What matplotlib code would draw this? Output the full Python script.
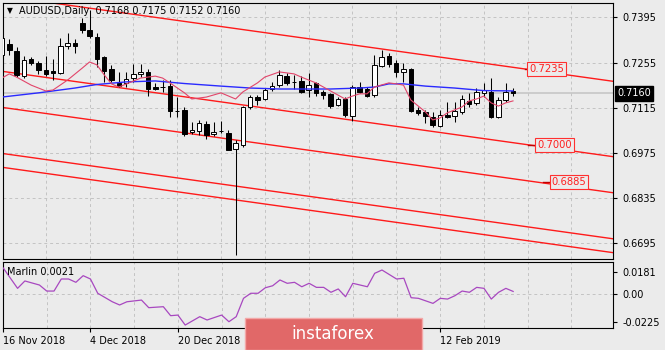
import numpy as np
import matplotlib
matplotlib.use("Agg")
import matplotlib.pyplot as plt
import matplotlib.transforms as mtransforms
from matplotlib.patches import Rectangle

# AUDUSD daily bars starting 16 Nov 2018 (index = bar number)
opens = [0.7278, 0.7313, 0.7291, 0.7213, 0.7266, 0.7254, 0.7232, 0.7229, 0.7223, 0.7307,
         0.7316, 0.7378, 0.7356, 0.7334, 0.7272, 0.7235, 0.7192, 0.7192, 0.7207, 0.7220,
         0.7226, 0.7179, 0.7180, 0.7182, 0.7106, 0.7108, 0.7040, 0.7043, 0.7064, 0.7033,
         0.7043, 0.7036, 0.6987, 0.6999, 0.7117, 0.7148, 0.7142, 0.7173, 0.7185, 0.7213,
         0.7196, 0.7198, 0.7170, 0.7192, 0.7164, 0.7158, 0.7123, 0.7142, 0.7089, 0.7179,
         0.7173, 0.7154, 0.7244, 0.7275, 0.7254, 0.7226, 0.7235, 0.7108, 0.7102, 0.7086,
         0.7058, 0.7092, 0.7089, 0.7102, 0.7136, 0.7130, 0.7161, 0.7164, 0.7086, 0.7139,
         0.7168]
highs = [0.7340, 0.7328, 0.7303, 0.7275, 0.7272, 0.7260, 0.7275, 0.7266, 0.7331, 0.7347,
         0.7328, 0.7393, 0.7418, 0.7347, 0.7275, 0.7248, 0.7226, 0.7226, 0.7251, 0.7251,
         0.7235, 0.7192, 0.7201, 0.7201, 0.7148, 0.7117, 0.7070, 0.7077, 0.7074, 0.7070,
         0.7074, 0.7046, 0.7015, 0.7120, 0.7154, 0.7154, 0.7176, 0.7195, 0.7232, 0.7223,
         0.7217, 0.7213, 0.7223, 0.7195, 0.7170, 0.7161, 0.7148, 0.7148, 0.7185, 0.7195,
         0.7179, 0.7279, 0.7294, 0.7285, 0.7263, 0.7254, 0.7238, 0.7117, 0.7108, 0.7102,
         0.7108, 0.7133, 0.7133, 0.7154, 0.7161, 0.7176, 0.7192, 0.7207, 0.7148, 0.7192,
         0.7175]
lows = [0.7263, 0.7279, 0.7210, 0.7207, 0.7248, 0.7220, 0.7213, 0.7201, 0.7220, 0.7297,
        0.7285, 0.7347, 0.7331, 0.7241, 0.7195, 0.7195, 0.7179, 0.7179, 0.7195, 0.7210,
        0.7151, 0.7170, 0.7164, 0.7086, 0.7086, 0.7027, 0.7033, 0.7030, 0.7018, 0.7027,
        0.7036, 0.6984, 0.6658, 0.6993, 0.7111, 0.7123, 0.7139, 0.7167, 0.7179, 0.7185,
        0.7173, 0.7161, 0.7148, 0.7151, 0.7142, 0.7114, 0.7120, 0.7086, 0.7074, 0.7161,
        0.7148, 0.7148, 0.7241, 0.7241, 0.7210, 0.7195, 0.7102, 0.7092, 0.7067, 0.7055,
        0.7055, 0.7083, 0.7070, 0.7095, 0.7117, 0.7123, 0.7148, 0.7083, 0.7083, 0.7133,
        0.7152]
closes = [0.7331, 0.7294, 0.7217, 0.7263, 0.7254, 0.7232, 0.7220, 0.7223, 0.7307, 0.7316,
          0.7307, 0.7356, 0.7338, 0.7266, 0.7229, 0.7201, 0.7182, 0.7204, 0.7220, 0.7226,
          0.7173, 0.7173, 0.7178, 0.7105, 0.7104, 0.7033, 0.7046, 0.7067, 0.7030, 0.7040,
          0.7042, 0.6984, 0.7005, 0.7117, 0.7148, 0.7139, 0.7170, 0.7182, 0.7217, 0.7192,
          0.7194, 0.7164, 0.7185, 0.7161, 0.7154, 0.7120, 0.7142, 0.7092, 0.7179, 0.7164,
          0.7151, 0.7248, 0.7272, 0.7251, 0.7226, 0.7235, 0.7105, 0.7098, 0.7089, 0.7061,
          0.7092, 0.7086, 0.7105, 0.7142, 0.7126, 0.7164, 0.7170, 0.7086, 0.7139, 0.7164,
          0.7160]

# fast moving average (pink)
fast_ma_bar = [0, 1, 2, 4, 6, 7, 9, 11, 12, 13, 14, 15, 16, 19, 21, 22, 23, 25, 26, 28,
               30, 32, 33, 35, 36, 38, 40, 41, 43, 45, 47, 48, 49, 50, 51, 53, 54, 55, 56, 58,
               59, 60, 61, 63, 64, 65, 66, 67, 68, 69, 70]
fast_ma = [0.7207, 0.7220, 0.7210, 0.7185, 0.7167, 0.7170, 0.7201, 0.7238, 0.7257, 0.7248,
           0.7217, 0.7189, 0.7179, 0.7207, 0.7213, 0.7207, 0.7192, 0.7161, 0.7142, 0.7148,
           0.7161, 0.7142, 0.7164, 0.7192, 0.7210, 0.7226, 0.7220, 0.7210, 0.7192, 0.7167,
           0.7142, 0.7151, 0.7158, 0.7158, 0.7179, 0.7192, 0.7189, 0.7185, 0.7139, 0.7102,
           0.7077, 0.7083, 0.7099, 0.7117, 0.7136, 0.7142, 0.7151, 0.7130, 0.7120, 0.7130,
           0.7136]

# slow moving average (blue)
slow_ma_bar = [0, 5, 10, 13, 17, 21, 25, 30, 34, 38, 45, 49, 51, 53, 55, 58, 62, 66, 70]
slow_ma = [0.7148, 0.7161, 0.7176, 0.7187, 0.7195, 0.7198, 0.7190, 0.7182, 0.7176, 0.7173,
           0.7173, 0.7176, 0.7179, 0.7189, 0.7189, 0.7182, 0.7176, 0.7168, 0.7167]

# Marlin oscillator
marlin_bar = [0, 2, 3, 5, 6, 7, 8, 9, 10, 11, 12, 13, 15, 16, 17, 19, 20, 22, 23, 24,
              25, 27, 28, 30, 31, 32, 33, 34, 35, 36, 37, 38, 39, 40, 41, 42, 43, 44, 45, 46,
              47, 48, 50, 51, 52, 54, 55, 56, 57, 59, 60, 61, 62, 63, 64, 65, 66, 67, 68, 69,
              70]
marlin = [0.0214, 0.0046, 0.0106, 0.0073, 0.0024, 0.0024, 0.0122, 0.0122, 0.0095, 0.0149,
          0.0122, 0.0006, -0.0063, -0.0089, -0.0063, -0.0049, -0.0111, -0.0103, -0.0176, -0.0171,
          -0.0252, -0.0184, -0.0211, -0.0171, -0.0225, -0.0184, -0.0035, 0.0006, 0.0006, 0.0051,
          0.0067, 0.0114, 0.0087, 0.0095, 0.0059, 0.0087, 0.0054, 0.0054, 0.0014, 0.0041,
          -0.0022, 0.0087, 0.0059, 0.0168, 0.0195, 0.0122, 0.0128, -0.0030, -0.0035, -0.0076,
          -0.0035, -0.0041, -0.0014, 0.0024, 0.0014, 0.0054, 0.0046, -0.0041, 0.0014, 0.0046,
          0.0021]

# parallel channel lines: price at bar 0 and at bar 84
channel_start = [0.7462, 0.7228, 0.7116, 0.6973, 0.6930]
channel_end = [0.7196, 0.6962, 0.6850, 0.6707, 0.6664]

target_levels = [0.7235, 0.7000, 0.6885]
price_ticks = [0.7395, 0.7255, 0.7115, 0.6975, 0.6835, 0.6695]
marlin_ticks = [0.0181, 0.0, -0.0225]
date_bars = [0, 12, 24, 60]
date_labels = ["16 Nov 2018", "4 Dec 2018", "20 Dec 2018", "12 Feb 2019"]
last_price = 0.7160
marlin_last = 0.0021

BG = "#ebebeb"
GRID = "#c3c3c3"
W, H = 665, 350

plt.rcParams["font.family"] = ["DejaVu Sans"]
fig = plt.figure(figsize=(W / 100, H / 100), dpi=100, facecolor=BG)

ax = fig.add_axes([3 / W, 1 - 259 / H, 610 / W, 256 / H], facecolor=BG)
ax2 = fig.add_axes([3 / W, 1 - 328 / H, 610 / W, 66 / H], facecolor=BG)

x_lo, x_hi = 0.14, 83.7
ax.set_xlim(x_lo, x_hi)
ax.set_ylim(0.66452, 0.74400)
ax2.set_xlim(x_lo, x_hi)
ax2.set_ylim(-0.0276, 0.0260)

grid_bars = np.arange(6, 84, 6)
for a in (ax, ax2):
    for gx in grid_bars:
        a.axvline(gx, color=GRID, lw=0.7, ls=(0, (3, 3)), zorder=0)
    for sp in a.spines.values():
        sp.set_color("black")
        sp.set_linewidth(0.8)
for p in price_ticks:
    ax.axhline(p, color=GRID, lw=0.7, ls=(0, (3, 3)), zorder=0)
ax2.axhline(0.0, color=GRID, lw=0.7, ls=(0, (3, 3)), zorder=0)

# bid line
ax.axhline(last_price, color="#c6c6c6", lw=1.2, zorder=1)

# channel
seg = np.array([0, 84])
for p0, p1 in zip(channel_start, channel_end):
    ax.plot(seg, [p0, p1], color="#ff1a1a", lw=1.0, zorder=2, solid_capstyle="butt")

# candles
o = np.array(opens)
h = np.array(highs)
l = np.array(lows)
c = np.array(closes)
bars = np.arange(len(o))
up = c >= o
ax.vlines(bars, l, h, color="black", lw=0.75, zorder=3)
body_lo = np.minimum(o, c)
body_h = np.maximum(np.abs(c - o), 0.00003)
ax.bar(bars[up], body_h[up], bottom=body_lo[up], width=0.62, color="white",
       edgecolor="black", linewidth=0.7, zorder=4)
ax.bar(bars[~up], body_h[~up], bottom=body_lo[~up], width=0.62, color="black",
       edgecolor="black", linewidth=0.7, zorder=4)

# moving averages
ax.plot(slow_ma_bar, slow_ma, color="#2a2aff", lw=1.0, zorder=5)
ax.plot(fast_ma_bar, fast_ma, color="#e2456a", lw=0.8, zorder=5)

# target labels on the channel lines
label_bar = [72.2, 73.3, 75.3]
stub = [0.5, 1.2, 1.2]
for lvl, bx, s in zip(target_levels, label_bar, stub):
    ax.plot([bx - s, bx], [lvl, lvl], color="#c00000", lw=1.0, zorder=6)
    ax.text(bx, lvl, f"{lvl:.4f}", color="#ff2020", fontsize=7.2, ha="left", va="center",
            zorder=7, bbox=dict(boxstyle="square,pad=0.18", fc=BG, ec="#ff3030", lw=0.8))

# right price scale
ax.yaxis.tick_right()
ax.set_yticks(price_ticks)
ax.set_yticklabels([f"{p:.4f}" for p in price_ticks])
ax.tick_params(axis="y", direction="out", length=3, width=0.8, pad=4, labelsize=7,
               colors="black")
ax.set_xticks([])

bid_tr = mtransforms.blended_transform_factory(ax.transAxes, ax.transData)
ax.text(1.0 + 4 / 610, last_price, f"{last_price:.4f}", transform=bid_tr, color="white",
        fontsize=7, ha="left", va="center", zorder=8, clip_on=False,
        bbox=dict(boxstyle="square,pad=0.25", fc="black", ec="black"))

# Marlin panel
ax2.plot(marlin_bar, marlin, color="#a848c0", lw=0.9, zorder=3)
ax2.yaxis.tick_right()
ax2.set_yticks(marlin_ticks)
ax2.set_yticklabels(["0.0181", "0.00", "-0.0225"])
ax2.tick_params(axis="y", direction="out", length=3, width=0.8, pad=4, labelsize=7)
ax2.set_xticks(date_bars)
ax2.set_xticklabels(date_labels, ha="left")
ax2.tick_params(axis="x", direction="out", length=3, width=0.8, pad=3, labelsize=7)
ax2.text(4 / 610, 0.85, f"Marlin {marlin_last:.4f}", transform=ax2.transAxes,
         fontsize=7, ha="left", va="center")

# header
fig.text(7 / W, 1 - 11 / H, "\u25bc", fontsize=5.5, ha="left", va="center")
fig.text(19 / W, 1 - 11 / H, "AUDUSD,Daily  0.7168 0.7175 0.7152 0.7160", fontsize=7,
         ha="left", va="center")

# logo
fig.patches.append(Rectangle((245 / W, 0), 177 / W, 32 / H, transform=fig.transFigure,
                             fc="#e16868", ec="#f3a8a8", lw=1.0, zorder=20))
fig.text(333 / W, 16 / H, "instaforex", color="white", fontsize=12, ha="center",
         va="center", zorder=21)

fig.savefig("out.png", dpi=100, facecolor=BG)
